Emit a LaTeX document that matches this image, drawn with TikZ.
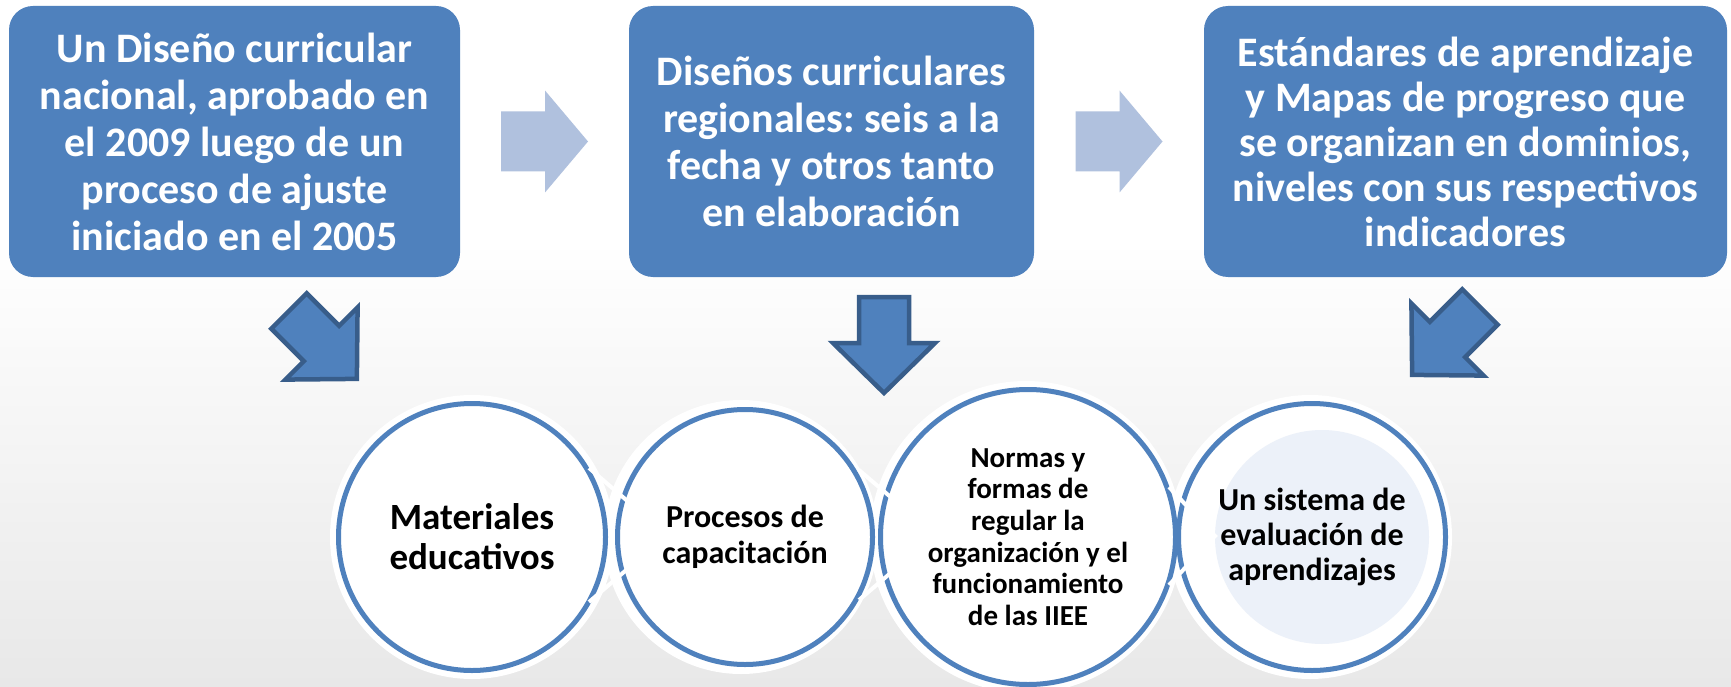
\documentclass[tikz,border=0pt]{standalone}
\usepackage{fontspec}
\setmainfont{Carlito}
\usetikzlibrary{calc}
\definecolor{acc}{HTML}{4F81BD}
\definecolor{accdark}{HTML}{385D8A}
\definecolor{lightarr}{RGB}{176,193,222}
\definecolor{innerfill}{HTML}{ECF1F9}
\definecolor{bggray}{RGB}{232,232,232}
\frenchspacing
\begin{document}
\begin{tikzpicture}[x=1pt,y=-1pt,
  topbox/.style={fill=acc, rounded corners=24pt, text=white, align=center, inner sep=0pt},
  ring/.style={circle, draw=acc, line width=5pt, fill=white, inner sep=0pt, align=center, text=black},
  halo/.style={fill=white},
  chev/.style={draw=white, line width=4pt, line join=miter},
  pics/bluearrow/.style={code={\draw[fill=acc, draw=accdark, line width=4.5pt, line join=miter] (0,25) -- (46,25) -- (46,51) -- (96,0) -- (46,-51) -- (46,-25) -- (0,-25) -- cycle;}},
  pics/lightarrow/.style={code={\fill[lightarr] (-43.5,-30) -- (0.5,-30) -- (0.5,-51) -- (43.5,0) -- (0.5,51) -- (0.5,30) -- (-43.5,30) -- cycle;}}
]
\useasboundingbox (0,0) rectangle (1731,687);
% background
\fill[white] (0,0) rectangle (1731,687);
\shade[top color=white, bottom color=bggray] (0,240) rectangle (1731,687);

% top boxes
\node[topbox, minimum width=451pt, minimum height=271pt, font=\bfseries\fontsize{42}{47}\selectfont] (b1) at (234.5,141.5)
  {Un Diseño curricular\\nacional, aprobado en\\el 2009 luego de un\\proceso de ajuste\\iniciado en el 2005};
\node[topbox, minimum width=405pt, minimum height=271pt, font=\bfseries\fontsize{42}{47}\selectfont] (b2) at (831.5,141.5)
  {Diseños curriculares\\regionales: seis a la\\fecha y otros tanto\\en elaboración};
\node[topbox, minimum width=523pt, minimum height=271pt, font=\bfseries\fontsize{42}{45}\selectfont] (b3) at (1465.5,141.5)
  {Estándares de aprendizaje\\y Mapas de progreso que\\se organizan en dominios,\\niveles con sus respectivos\\indicadores};

% light arrows between boxes
\pic at ($(b1.east)!0.5!(b2.west)$) {lightarrow};
\pic at ($(b2.east)!0.5!(b3.west)$) {lightarrow};

% blue arrows
\pic[rotate=-45] at (289,311) {bluearrow};
\pic[rotate=-90] at (884,297) {bluearrow};
\pic[rotate=-135] at (1480,307) {bluearrow};

% halos
\fill[halo] (472,537) circle (142);
\fill[halo] (741,537) circle (137);
\fill[halo] (1026,537) circle (156);
\fill[halo] (1310,537) circle (142);

% circles
\node[ring, minimum size=267pt, font=\bfseries\fontsize{37}{40}\selectfont] (c1) at (472,537) {Materiales\\educativos};
\node[ring, minimum size=255pt, font=\bfseries\fontsize{32}{36}\selectfont] (c2) at (745,537) {Procesos de\\capacitación};
\node[ring, minimum size=295pt, font=\bfseries\fontsize{29}{31.7}\selectfont] (c3) at (1028,537) {Normas y\\formas de\\regular la\\organización y el\\funcionamiento\\de las IIEE};
\node[ring, minimum size=267pt] (c4) at (1312,537) {};
\fill[innerfill] (1322,537) circle (107);
\node[align=center, inner sep=0pt, font=\bfseries\fontsize{32}{35}\selectfont] (t4) at (c4.center) {Un sistema de\\evaluación de\\aprendizajes};

% white chevrons crossing the outlines
\draw[chev] (589,468) -- (667,535) -- (589,602);
\draw[chev] (859,470) -- (935,535) -- (859,600);
\draw[chev] (1169,487) -- (1215,536) -- (1169,585);
\end{tikzpicture}
\end{document}
